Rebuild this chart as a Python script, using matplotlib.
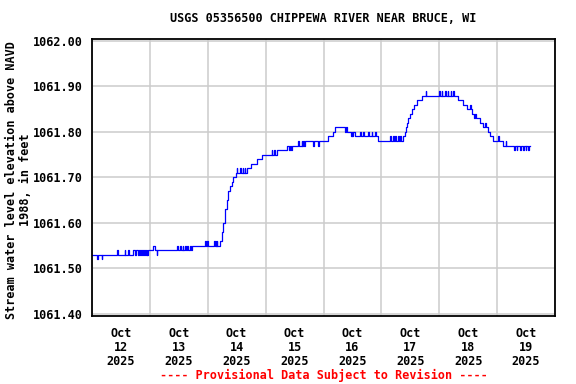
"""
plot.py
USGS 05356500 Chippewa River near Bruce, WI - stage hydrograph

Rebuilds the provisional water level plot for Oct 12-19 2025.
"""

import numpy as np
import pandas as pd
import matplotlib
matplotlib.use("Agg")
import matplotlib.pyplot as plt
import matplotlib.dates as mdates
from matplotlib.ticker import FixedLocator, FormatStrFormatter

# ------------------------------------------------------------------
# Data (hours after 2025-10-12 00:00, stage in feet above NAVD 1988)
# ------------------------------------------------------------------
START = pd.Timestamp("2025-10-12 00:00")

# level changes of the gage record
step_hours = [
    0.0, 16.9, 25.4, 26.1, 41.3, 53.1, 53.8, 54.5, 55.2, 55.9,
    56.5, 57.2, 57.9, 58.6, 59.7, 64.2, 65.8, 68.3, 70.4, 76.6,
    80.7, 88.3, 98.0, 99.8, 100.8, 105.7, 109.1, 118.7, 129.1, 129.8,
    130.4, 130.8, 131.2, 131.9, 132.6, 133.5, 134.7, 136.7, 151.9, 154.0,
    155.4, 157.5, 158.4, 160.9, 162.3, 164.3, 165.0, 166.4, 170.3, 181.7,
]
step_stage = [
    1061.53, 1061.54, 1061.55, 1061.54, 1061.55, 1061.56, 1061.58, 1061.60, 1061.63, 1061.65,
    1061.67, 1061.68, 1061.69, 1061.70, 1061.71, 1061.72, 1061.73, 1061.74, 1061.75, 1061.76,
    1061.77, 1061.78, 1061.79, 1061.80, 1061.81, 1061.80, 1061.79, 1061.78, 1061.79, 1061.80,
    1061.81, 1061.82, 1061.83, 1061.84, 1061.85, 1061.86, 1061.87, 1061.88, 1061.87, 1061.86,
    1061.85, 1061.84, 1061.83, 1061.82, 1061.81, 1061.80, 1061.79, 1061.78, 1061.77, 1061.77,
]

# single-reading blips on top of the level record
spike_hours = [
    2.1, 4.1, 10.5, 13.6, 15.0, 17.8, 19.2, 19.9, 20.9, 21.6,
    22.4, 22.9, 26.8, 35.4, 36.5, 37.6, 38.6, 39.5, 40.6, 46.9,
    47.8, 50.6, 51.3, 51.7, 60.0, 61.4, 62.5, 63.4, 74.5, 75.5,
    81.7, 82.5, 85.6, 87.0, 87.6, 91.8, 93.9, 104.9, 107.5, 108.0,
    111.1, 112.5, 114.6, 116.0, 117.4, 123.6, 124.8, 125.7, 126.9, 127.7,
    138.4, 144.0, 145.0, 146.4, 147.5, 148.8, 149.8, 156.8, 158.8, 160.2,
    163.0, 168.5, 171.5, 175.1, 176.1, 177.5, 178.9, 179.9, 181.0,
]
spike_stage = [
    1061.52, 1061.52, 1061.54, 1061.54, 1061.54, 1061.53, 1061.53, 1061.53, 1061.53, 1061.53,
    1061.53, 1061.53, 1061.53, 1061.55, 1061.55, 1061.55, 1061.55, 1061.55, 1061.55, 1061.56,
    1061.56, 1061.56, 1061.56, 1061.56, 1061.72, 1061.72, 1061.72, 1061.72, 1061.76, 1061.76,
    1061.76, 1061.76, 1061.78, 1061.78, 1061.78, 1061.77, 1061.77, 1061.80, 1061.79, 1061.79,
    1061.80, 1061.80, 1061.80, 1061.80, 1061.80, 1061.79, 1061.79, 1061.79, 1061.79, 1061.79,
    1061.89, 1061.89, 1061.89, 1061.89, 1061.89, 1061.89, 1061.89, 1061.86, 1061.84, 1061.83,
    1061.82, 1061.79, 1061.78, 1061.76, 1061.76, 1061.76, 1061.76, 1061.76, 1061.76,
]

y_ticks = [1061.40, 1061.50, 1061.60, 1061.70, 1061.80, 1061.90, 1062.00]

TITLE = "USGS 05356500 CHIPPEWA RIVER NEAR BRUCE, WI"
Y_LABEL = "Stream water level elevation above NAVD\n1988, in feet"
FOOTER = "---- Provisional Data Subject to Revision ----"

FONT = "DejaVu Sans Mono"
FS = 8.5


# ------------------------------------------------------------------
# Build the plotted series (level record + 15 minute blips)
# ------------------------------------------------------------------
def build_series():
    base_h = np.array(step_hours)
    base_v = np.array(step_stage)

    hours = list(base_h)
    stage = list(base_v)
    for h, v in zip(spike_hours, spike_stage):
        idx = np.searchsorted(base_h, h, side="right") - 1
        hours += [h, h + 0.25]
        stage += [v, base_v[idx]]

    order = np.argsort(hours, kind="stable")
    hours = np.array(hours)[order]
    stage = np.array(stage)[order]
    times = START + pd.to_timedelta(hours, unit="h")
    return times, stage


# ------------------------------------------------------------------
# Plot
# ------------------------------------------------------------------
def main():
    times, stage = build_series()

    fig = plt.figure(figsize=(5.76, 3.84), dpi=100)
    ax = fig.add_axes([92 / 576, 1 - 316 / 384, 463 / 576, 277 / 384])

    ax.plot(times, stage, color="#0000ff", lw=0.9, drawstyle="steps-post")

    ax.set_xlim(START, START + pd.Timedelta(days=8))
    ax.set_ylim(1061.395, 1062.0045)

    # gridlines at midnight, labels at noon
    ax.xaxis.set_major_locator(mdates.DayLocator())
    ax.xaxis.set_major_formatter(plt.NullFormatter())
    ax.xaxis.set_minor_locator(mdates.HourLocator(byhour=[12]))
    ax.xaxis.set_minor_formatter(mdates.DateFormatter("%b\n%d\n%Y"))
    ax.yaxis.set_major_locator(FixedLocator(y_ticks))
    ax.yaxis.set_major_formatter(FormatStrFormatter("%.2f"))

    ax.grid(True, which="major", color="#cccccc", lw=1.1)
    ax.set_axisbelow(True)
    ax.tick_params(axis="both", which="both", length=0)
    ax.tick_params(axis="y", pad=7)
    ax.tick_params(axis="x", which="minor", pad=8)

    for lab in ax.get_yticklabels() + ax.get_xticklabels(minor=True):
        lab.set_fontfamily(FONT)
        lab.set_fontweight("bold")
        lab.set_fontsize(FS)
        lab.set_linespacing(1.1)

    for spine in ax.spines.values():
        spine.set_linewidth(1.3)
        spine.set_color("black")

    fig.text(323.5 / 576, 1 - 19 / 384, TITLE, ha="center", va="center",
             family=FONT, weight="bold", fontsize=FS)
    fig.text(18.5 / 576, 1 - 180 / 384, Y_LABEL, ha="center", va="center",
             rotation=90, multialignment="center", linespacing=1.1,
             family=FONT, weight="bold", fontsize=FS)
    fig.text(323.5 / 576, 1 - 375 / 384, FOOTER, ha="center", va="center",
             color="#ff0000", family=FONT, weight="bold", fontsize=FS)

    fig.savefig("out.png", dpi=100)
    plt.close(fig)


if __name__ == "__main__":
    main()
